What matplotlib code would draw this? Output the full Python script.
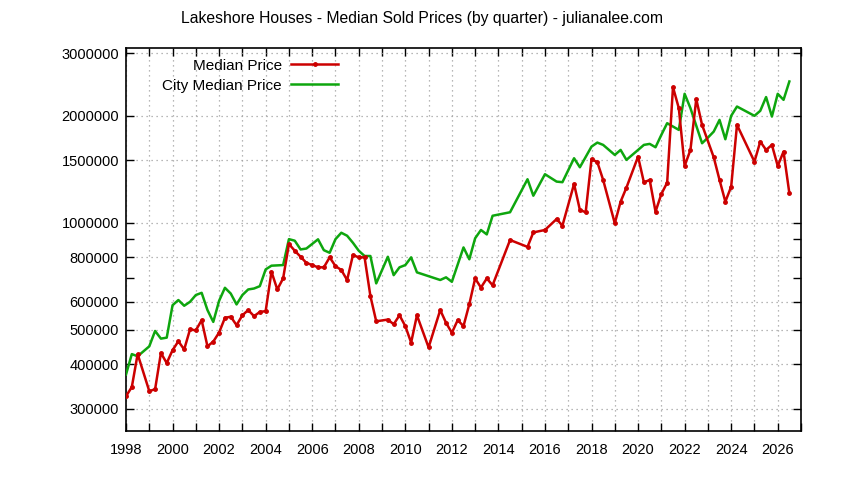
import numpy as np
import matplotlib
matplotlib.use("Agg")
import matplotlib.pyplot as plt
from matplotlib.ticker import FixedLocator, NullFormatter, FixedFormatter

# Lakeshore median sold price (quarterly)
red_x = [1998.0, 1998.25, 1998.5, 1999.0, 1999.25, 1999.5, 1999.75,
         2000.0, 2000.25, 2000.5, 2000.75, 2001.0, 2001.25, 2001.5, 2001.75,
         2002.0, 2002.25, 2002.5, 2002.75, 2003.0, 2003.25, 2003.5, 2003.75,
         2004.0, 2004.25, 2004.5, 2004.75, 2005.0, 2005.25, 2005.5, 2005.75,
         2006.0, 2006.25, 2006.5, 2006.75, 2007.0, 2007.25, 2007.5, 2007.75,
         2008.0, 2008.25, 2008.5, 2008.75, 2009.25, 2009.5, 2009.75,
         2010.0, 2010.25, 2010.5, 2011.0, 2011.5, 2011.75,
         2012.0, 2012.25, 2012.5, 2012.75, 2013.0, 2013.25, 2013.5, 2013.75,
         2014.5, 2015.25, 2015.5, 2016.0, 2016.5, 2016.75,
         2017.25, 2017.5, 2017.75, 2018.0, 2018.25, 2018.5,
         2019.0, 2019.25, 2019.5, 2020.0, 2020.25, 2020.5, 2020.75,
         2021.0, 2021.25, 2021.5, 2021.75, 2022.0, 2022.25, 2022.5, 2022.75,
         2023.25, 2023.5, 2023.75, 2024.0, 2024.25,
         2025.0, 2025.25, 2025.5, 2025.75, 2026.0, 2026.25, 2026.5]
red_y = [325000, 345000, 427000, 336000, 340000, 430000, 403000,
         438000, 464000, 440000, 501000, 498000, 532000, 449000, 463000,
         491000, 540000, 544000, 515000, 549000, 568000, 546000, 561000,
         564000, 728000, 649000, 697000, 871000, 834000, 802000, 771000,
         760000, 749000, 749000, 799000, 755000, 736000, 690000, 811000,
         799000, 799000, 622000, 528000, 534000, 518000, 549000,
         512000, 460000, 549000, 446000, 568000, 523000,
         490000, 532000, 512000, 590000, 697000, 657000, 697000, 667000,
         894000, 855000, 939000, 954000, 1024000, 981000,
         1285000, 1086000, 1070000, 1509000, 1480000, 1319000,
         996000, 1146000, 1255000, 1534000, 1299000, 1319000, 1074000,
         1204000, 1296000, 2406000, 2100000, 1444000, 1602000, 2226000, 1884000,
         1528000, 1319000, 1146000, 1263000, 1884000,
         1485000, 1691000, 1602000, 1655000, 1444000, 1585000, 1210000]

# City median price
green_x = [1998.0, 1998.25, 1998.5, 1999.0, 1999.25, 1999.5, 1999.75,
           2000.0, 2000.25, 2000.5, 2000.75, 2001.0, 2001.25, 2001.5, 2001.75,
           2002.0, 2002.25, 2002.5, 2002.75, 2003.0, 2003.25, 2003.5, 2003.75,
           2004.0, 2004.25, 2004.75, 2005.0, 2005.25, 2005.5, 2005.75,
           2006.25, 2006.5, 2006.75, 2007.0, 2007.25, 2007.5, 2007.75,
           2008.0, 2008.25, 2008.5, 2008.75, 2009.25, 2009.5, 2009.75,
           2010.0, 2010.25, 2010.5, 2011.5, 2011.75,
           2012.0, 2012.5, 2012.75, 2013.0, 2013.25, 2013.5, 2013.75,
           2014.5, 2015.25, 2015.5, 2016.0, 2016.5, 2016.75,
           2017.25, 2017.5, 2018.0, 2018.25, 2018.5,
           2019.0, 2019.25, 2019.5, 2020.0, 2020.25, 2020.5, 2020.75,
           2021.0, 2021.25, 2021.75, 2022.0, 2022.25, 2022.75,
           2023.0, 2023.25, 2023.5, 2023.75, 2024.0, 2024.25,
           2025.0, 2025.25, 2025.5, 2025.75, 2026.0, 2026.25, 2026.5]
green_y = [374000, 427000, 421000, 449000, 496000, 472000, 475000,
           586000, 606000, 584000, 599000, 626000, 635000, 568000, 526000,
           603000, 656000, 632000, 589000, 626000, 649000, 653000, 663000,
           739000, 757000, 760000, 899000, 890000, 841000, 846000,
           898000, 837000, 823000, 899000, 937000, 919000, 878000,
           834000, 806000, 806000, 675000, 802000, 712000, 749000,
           760000, 799000, 725000, 690000, 702000,
           682000, 852000, 789000, 904000, 954000, 927000, 1046000,
           1070000, 1325000, 1191000, 1369000, 1305000, 1300000,
           1518000, 1432000, 1637000, 1680000, 1655000,
           1551000, 1602000, 1502000, 1602000, 1655000, 1666000, 1630000,
           1766000, 1905000, 1824000, 2304000, 2100000, 1673000,
           1735000, 1804000, 1946000, 1717000, 1998000, 2122000,
           1998000, 2064000, 2256000, 1989000, 2304000, 2216000, 2496000]

y_ticks = [300000, 400000, 500000, 600000, 800000, 1000000, 1500000, 2000000, 3000000]
y_minor = [700000, 900000]
x_years = list(range(1998, 2028))

plt.rcParams["font.family"] = ["Liberation Sans", "DejaVu Sans"]
plt.rcParams["font.size"] = 10

RED = "#cc0000"
GREEN = "#0ea60e"

fig = plt.figure(figsize=(8.44, 4.8), dpi=100)
ax = fig.add_axes([126 / 844, 49 / 480, 675 / 844, 383 / 480])

ax.plot(red_x, red_y, color=RED, linewidth=1.8, marker="o", markersize=2.5,
        label="Median Price", zorder=4)
ax.plot(green_x, green_y, color=GREEN, linewidth=1.8, label="City Median Price", zorder=3)

ax.set_yscale("log")
ax.set_ylim(259500, 3100000)
ax.set_xlim(1998, 2027)

ax.yaxis.set_major_locator(FixedLocator(y_ticks))
ax.yaxis.set_major_formatter(FixedFormatter([str(v) for v in y_ticks]))
ax.yaxis.set_minor_locator(FixedLocator(y_minor))
ax.yaxis.set_minor_formatter(NullFormatter())

ax.xaxis.set_major_locator(FixedLocator(x_years))
ax.xaxis.set_major_formatter(FixedFormatter([str(y) if y % 2 == 0 else "" for y in x_years]))

ax.tick_params(which="both", direction="in", top=True, right=True, width=1.0)
ax.tick_params(which="major", length=6, pad=5)
ax.tick_params(which="minor", length=6)
ax.tick_params(axis="x", which="major", pad=9)
ax.tick_params(labelsize=10.5)

ax.grid(True, which="major", color="#a0a0a0", linestyle=(0, (1, 3)), linewidth=0.9)
for s in ax.spines.values():
    s.set_linewidth(1.2)

ax.legend(loc="upper left", bbox_to_anchor=(0.038, 1.0), frameon=False,
          markerfirst=False, handlelength=3.1, handletextpad=0.6, labelspacing=0.4,
          fontsize=11, borderaxespad=0.3)
leg = ax.get_legend()
leg._legend_box.align = "right"

fig.suptitle("Lakeshore Houses - Median Sold Prices (by quarter) - julianalee.com",
             y=0.978, fontsize=11.3)

fig.savefig("out.png", dpi=100)
